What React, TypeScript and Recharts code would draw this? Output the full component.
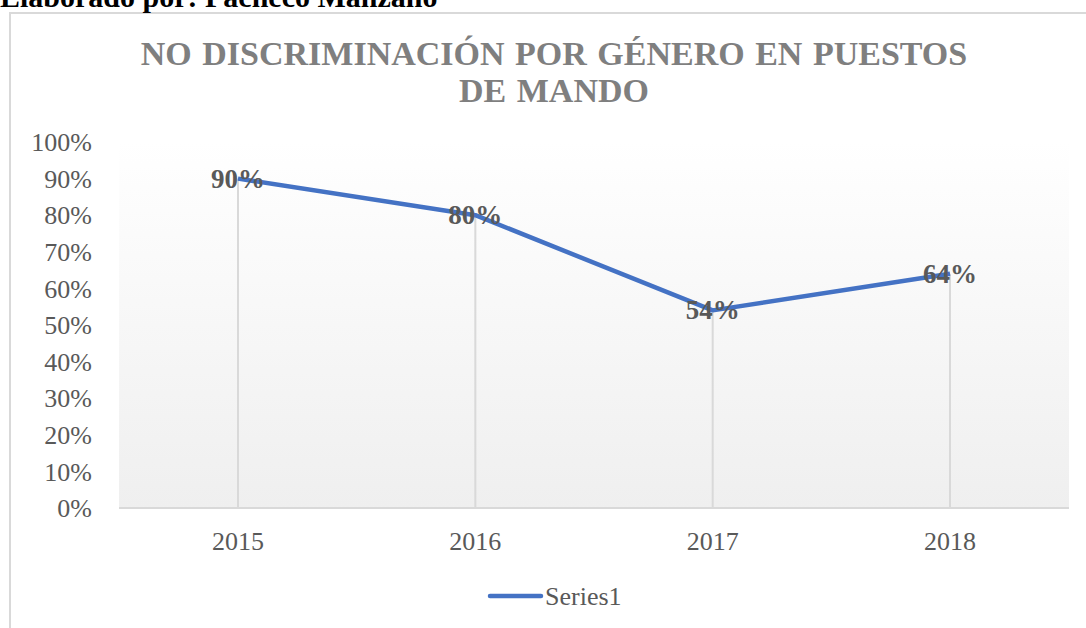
import React from 'react';
import { LineChart, Line, XAxis, YAxis, CartesianGrid, ReferenceLine, LabelList } from 'recharts';

const years = ['2015', '2016', '2017', '2018'];
const series1 = [0.9, 0.8, 0.54, 0.64];
const yTicks = [0, 0.1, 0.2, 0.3, 0.4, 0.5, 0.6, 0.7, 0.8, 0.9, 1];
const titleLines = ['NO DISCRIMINACIÓN POR GÉNERO EN PUESTOS', 'DE MANDO'];
const seriesName = 'Series1';
const caption = 'Elaborado por: Pacheco Manzano';

const data = years.map((y, i) => ({ year: y, value: series1[i] }));
const pct = (v: number) => `${Math.round(v * 100)}%`;
const serif = '"Liberation Serif", "Times New Roman", serif';

const CenterLabel = (props: any) => {
  const { x, y, value } = props;
  return (
    <text x={x} y={y} textAnchor="middle" dominantBaseline="central" fontFamily={serif}
      fontWeight="bold" fontSize={27} fill="#595959">{pct(value)}</text>
  );
};

export default function App() {
  return (
    <div style={{ position: 'absolute', left: 0, top: 0, width: 1086, height: 628, background: '#fff', overflow: 'hidden' }}>
      <div style={{ position: 'absolute', left: 9, top: 12, width: 1200, height: 800, border: '2px solid #d9d9d9', boxSizing: 'border-box' }} />
      <div style={{ position: 'absolute', left: 0, top: -20, fontFamily: serif, fontWeight: 'bold', fontSize: 30, color: '#000', whiteSpace: 'nowrap', lineHeight: '34px' }}>{caption}</div>
      <div style={{ position: 'absolute', left: 0, top: 0 }}>
        <LineChart width={1086} height={628} data={data} margin={{ top: 142, right: 17, bottom: 90, left: 39 }}>
          <defs>
            <linearGradient id="plotBg" x1="0" y1="0" x2="0" y2="1">
              <stop offset="0%" stopColor="#ffffff" />
              <stop offset="100%" stopColor="#efefef" />
            </linearGradient>
          </defs>
          <CartesianGrid horizontal={false} vertical={false} fill="url(#plotBg)" />
          <text x={554} y={65} textAnchor="middle" fontFamily={serif} fontWeight="bold" fontSize={34} fill="#7f7f7f" wordSpacing={2}>{titleLines[0]}</text>
          <text x={554} y={102} textAnchor="middle" fontFamily={serif} fontWeight="bold" fontSize={34} fill="#7f7f7f" wordSpacing={2}>{titleLines[1]}</text>
          <XAxis dataKey="year" padding={{ left: 119, right: 119 }} tickLine={false} tickSize={0} tickMargin={24}
            axisLine={{ stroke: '#d9d9d9', strokeWidth: 2 }}
            tick={{ fontFamily: serif, fontSize: 26, fill: '#595959' }} />
          <YAxis domain={[0, 1]} ticks={yTicks} tickFormatter={pct} width={80} axisLine={false} tickLine={false}
            tickSize={0} tickMargin={27} interval={0}
            tick={{ fontFamily: serif, fontSize: 26, fill: '#595959' }} />
          {data.map((d) => (
            <ReferenceLine key={d.year} segment={[{ x: d.year, y: 0 }, { x: d.year, y: d.value }]}
              stroke="#d9d9d9" strokeWidth={2} />
          ))}
          <Line type="linear" dataKey="value" name={seriesName} stroke="#4472C4" strokeWidth={4.5}
            strokeLinejoin="round" dot={false} activeDot={false} isAnimationActive={false}>
            <LabelList dataKey="value" content={CenterLabel} />
          </Line>
          <line x1={490} y1={596} x2={541} y2={596} stroke="#4472C4" strokeWidth={4.5} strokeLinecap="round" />
          <text x={545} y={605} fontFamily={serif} fontSize={26} fill="#595959">{seriesName}</text>
        </LineChart>
      </div>
    </div>
  );
}
